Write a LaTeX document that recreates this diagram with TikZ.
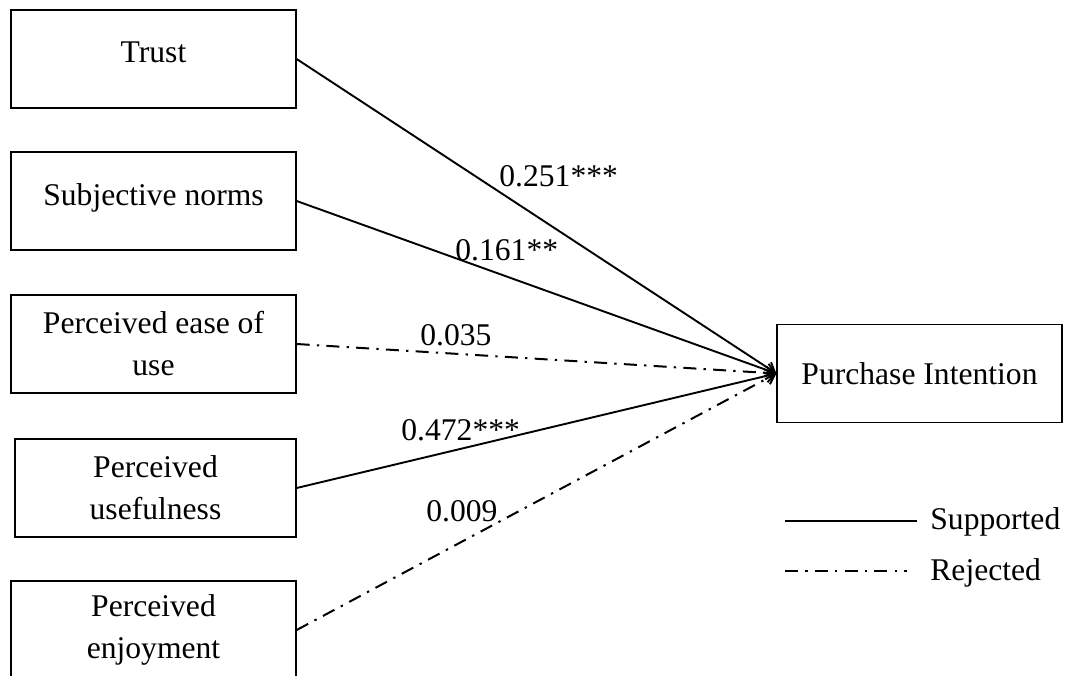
\documentclass[tikz,border=0pt]{standalone}
\usepackage{fontspec}
\setmainfont{Liberation Serif}
\usetikzlibrary{arrows.meta,positioning}
\tikzset{
  factorbox/.style={draw, line width=0.65pt, minimum width=142.5pt, minimum height=49pt,
    align=center, inner sep=2pt, font=\fontsize{15.8}{21}\selectfont},
  oneline/.style={text depth=6.5pt},
  pathln/.style={-{Straight Barb[length=4.5pt,width=6.5pt]}},
  supportln/.style={line width=0.95pt},
  rejectln/.style={line width=1pt, dash pattern=on 6.5pt off 3.6pt on 1.2pt off 3.6pt},
  coefflbl/.style={inner sep=0pt, anchor=base west, font=\fontsize{15.8}{18}\selectfont},
}

\begin{document}
\begin{tikzpicture}[x=0.5pt, y=-0.5pt]
  \useasboundingbox (0,0) rectangle (1069,675);
  % antecedents
  \node[factorbox, oneline] (trust) at (153.5,59)  {Trust};
  \node[factorbox, oneline] (norms) at (153.5,201) {Subjective norms};
  \node[factorbox] (ease)   at (153.5,344) {Perceived ease of\\use};
  \node[factorbox, minimum width=140.5pt] (useful) at (155.5,488) {Perceived\\usefulness};
  \node[factorbox] (enjoy)  at (153.5,630) {Perceived\\enjoyment};
  % outcome
  \node[factorbox] (intent) at (919.5,373.5) {Purchase Intention};

  \draw[pathln, supportln] (trust.east)  -- (intent.west);
  \draw[pathln, supportln] (norms.east)  -- (intent.west);
  \draw[pathln, rejectln]  (ease.east)   -- (intent.west);
  \draw[pathln, supportln] (useful.east) -- (intent.west);
  \draw[pathln, rejectln]  (enjoy.east)  -- (intent.west);

  \node[coefflbl] (c1) at (499,186) {0.251***};
  \node[coefflbl] (c2) at (455,260) {0.161**};
  \node[coefflbl] (c3) at (420,345) {0.035};
  \node[coefflbl] (c4) at (401,440) {0.472***};
  \node[coefflbl] (c5) at (426,521) {0.009};

  % legend
  \coordinate (supA) at (785,521);
  \coordinate (supB) at (917,521);
  \coordinate (rejA) at (785,571);
  \coordinate (rejB) at (907,571);
  \draw[supportln] (supA) -- (supB);
  \draw[rejectln]  (rejA) -- (rejB);
  \node[coefflbl] (suptxt) at (930,529) {Supported};
  \node[coefflbl] (rejtxt) at (930,580) {Rejected};
\end{tikzpicture}
\end{document}
